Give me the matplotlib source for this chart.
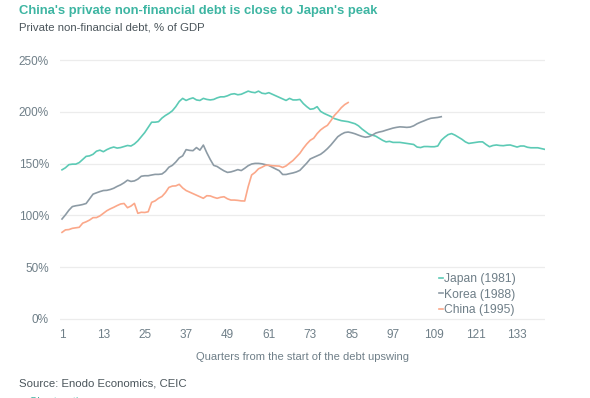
import matplotlib.pyplot as plt
from matplotlib.ticker import FuncFormatter

# data (% of GDP, quarter 1 = start of the upswing)
japan = [144, 146, 149, 149.5, 149.5, 151, 154, 157, 157.5, 159,
         162, 163, 161.5, 163.5, 165, 166, 165, 165.5, 166.5, 167.5,
         167, 169, 172, 176, 180, 185, 190, 190, 190.5, 194,
         196.5, 198.5, 201, 205, 210, 213, 211, 212.5, 213.5, 211.5,
         211, 213, 212, 211.5, 212, 213.5, 214.5, 214.5, 215.5, 217,
         217.5, 216.5, 217, 218.5, 220, 219, 218.5, 220, 218, 217.5,
         218.5, 217, 215.5, 214, 212.5, 211, 213, 211.5, 211.5, 212,
         208, 205, 202.5, 203, 205, 200.5, 198.5, 197, 195.5, 193.5,
         192.5, 191.5, 191, 190.5, 189.5, 188.5, 186.5, 183.5, 181, 178.5,
         177.5, 176.5, 174.5, 172.5, 171, 171.5, 170.5, 170.5, 170.5, 170,
         169.5, 169, 168.5, 166, 165.5, 166.5, 166.5, 166.3, 166.3, 167,
         172.5, 175.5, 178, 179, 177.5, 175.5, 173.5, 171, 169.5, 170,
         170.5, 171, 171, 168.5, 166.3, 167.5, 168, 167.5, 167.3, 167.8,
         168, 167, 166, 167, 167, 165.8, 165.3, 165.3, 165.3, 164.5,
         163.8]
korea = [96.5, 100.5, 105, 108.5, 109.3, 109.8, 110.5, 111.5, 116, 120.5,
         121.8, 123, 124, 124.2, 125, 126.2, 128, 129.5, 131.5, 134,
         132.8, 133.3, 135, 137.8, 138.3, 138.3, 139, 139.6, 139.6, 140,
         142.5, 146.5, 148.3, 151.5, 155.5, 157.5, 163.5, 162.8, 162.5, 165.5,
         163, 167.9, 160.5, 154, 148.3, 147.2, 145, 143, 141.5, 142,
         143, 144.2, 143.3, 145.5, 148, 149.6, 150.2, 150.2, 149.8, 149,
         148.2, 146.5, 144.8, 143.2, 139.5, 139.5, 140.3, 141, 142, 143.5,
         147, 150.5, 154.5, 156, 157.5, 159, 161.5, 164.5, 168, 172,
         176, 178.3, 180, 180.5, 179.8, 178.8, 177.5, 176.3, 175.5, 176,
         177.5, 179.5, 180.5, 181.2, 182.3, 183.3, 184.3, 185, 185.5, 185.3,
         185, 185.3, 186.5, 188.5, 190, 191.3, 192.7, 193.8, 194.2, 194.6,
         195.3]
china = [83.6, 86, 86.3, 87.5, 88, 88.5, 92.5, 93.8, 95.5, 97.8,
         97.9, 99.5, 102, 104.5, 106.3, 107.8, 109.5, 111, 111.5, 107.4,
         109, 111.6, 102, 103, 102.8, 103.5, 112.6, 114, 116.5, 118.3,
         122, 127, 128.3, 128.5, 130, 126.5, 124, 122.5, 121, 119.5,
         118, 116.5, 119, 118.8, 117.5, 116.5, 117.5, 118, 116, 114.8,
         114.8, 114.5, 114, 113.9, 127.7, 139, 141.5, 145, 146.5, 148.3,
         148.5, 148, 147.8, 147.6, 146.3, 147.8, 150.5, 153, 156.5, 160,
         164.8, 169, 172.5, 174.5, 179, 182.5, 185, 187, 191.5, 196.5,
         200, 204, 207, 209]

series = [("Japan (1981)", japan, "#5ccab5"),
          ("Korea (1988)", korea, "#8d9ba5"),
          ("China (1995)", china, "#fba88a")]
xticks = list(range(1, 134, 12))
yticks = [0, 50, 100, 150, 200, 250]

grey = "#6f7f88"
plt.rcParams['font.family'] = ['Liberation Sans', 'DejaVu Sans']

fig = plt.figure(figsize=(5.9, 3.98), dpi=100)
ax = fig.add_axes([60 / 590, (398 - 321) / 398, 485 / 590, 263 / 398])

for name, vals, color in series:
    ax.plot(range(1, len(vals) + 1), vals, color=color, lw=1.2, label=name)

ax.set_xlim(0.42, 141.1)
ax.set_ylim(-2, 252)
ax.set_xticks(xticks)
ax.set_yticks(yticks)
ax.yaxis.set_major_formatter(FuncFormatter(lambda v, p: f"{v:.0f}%"))
ax.tick_params(length=0, labelsize=8.5, colors=grey, pad=6)
ax.tick_params(axis='y', pad=8)
ax.grid(axis='y', color='#ececec', lw=0.9)
ax.set_axisbelow(True)
for s in ax.spines.values():
    s.set_visible(False)

ax.set_xlabel("Quarters from the start of the debt upswing", fontsize=8,
              color=grey, labelpad=8)

leg = ax.legend(loc='lower right', bbox_to_anchor=(0.95, 0.0), frameon=False,
                fontsize=8.7, handlelength=0.35, handletextpad=0.1,
                labelspacing=0.3, borderaxespad=0)
for t in leg.get_texts():
    t.set_color(grey)

fig.text(19 / 590, 1 - 11 / 398, "China's private non-financial debt is close to Japan's peak",
         fontsize=9.4, fontweight='bold', color="#3db5a2", va='center')
fig.text(19 / 590, 1 - 28 / 398, "Private non-financial debt, % of GDP",
         fontsize=8.2, color="#4b555b", va='center')
fig.text(19 / 590, 1 - 384 / 398, "Source: Enodo Economics, CEIC",
         fontsize=8.2, color="#4b555b", va='center')
fig.text(19 / 590, 1 - 402 / 398, "\u25cf Chart options",
         fontsize=8.2, color="#3db5a2", va='center')

fig.savefig("out.png", dpi=100)
